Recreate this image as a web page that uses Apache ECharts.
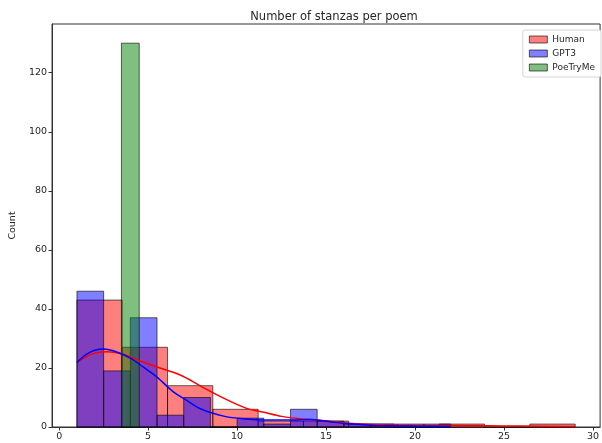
<!DOCTYPE html>
<html>
<head>
<meta charset="utf-8">
<script src="https://cdn.jsdelivr.net/npm/echarts@6/dist/echarts.min.js"></script>
<style>
  html, body { margin: 0; padding: 0; background: #fff; }
  #chart { width: 602px; height: 443px; }
</style>
</head>
<body>
<div id="chart"></div>
<script>
// histogram bins (edges) and counts
const humanEdges = [1, 3.545, 6.091, 8.636, 11.182, 13.727, 16.273, 18.818, 21.364, 23.909, 26.455, 29];
const humanCounts = [43, 27, 14, 6, 2, 2, 1, 0, 1, 0, 1];

const gptEdges = [1, 2.5, 4, 5.5, 7, 8.5, 10, 11.5, 13, 14.5, 16, 17.5, 19, 20.5, 22];
const gptCounts = [46, 19, 37, 4, 10, 0, 3, 1, 6, 2, 1, 1, 1, 1];

const poeEdges = [3.5, 4.5];
const poeCounts = [130];

// kde curves [x, count]
const humanKde = [
  [1, 21.8], [1.5, 23.8], [2, 25], [2.7, 25.5], [3.5, 24.8], [4.2, 23.2],
  [5.45, 20.4], [6.8, 17.6], [8, 13.7], [9.3, 9.6], [10.5, 6.4], [11.5, 5],
  [12.5, 3.6], [13.4, 2.9], [14.6, 2.3], [16.3, 1.3], [18, 0.8], [20, 0.6],
  [22, 0.5], [24, 0.4], [26, 0.35], [29, 0.2],
];
const gptKde = [
  [1, 21.8], [1.5, 24.5], [2, 26], [2.5, 26.4], [3.2, 25.5], [4, 23.3],
  [4.8, 20], [5.5, 16.9], [6.4, 12], [7.1, 9.3], [8, 6], [9.3, 3.6],
  [10.5, 2.7], [11.5, 2.4], [13.3, 2.4], [14.1, 2.5], [15.2, 1.8],
  [16.1, 1.2], [17.8, 0.5], [20, 0.3], [22, 0.2],
];

const xTicks = [0, 5, 10, 15, 20, 25, 30];
const yTicks = [0, 20, 40, 60, 80, 100, 120];

const names = ['Human', 'GPT3', 'PoeTryMe'];
const fills = ['rgba(255,0,0,0.5)', 'rgba(0,0,255,0.5)', 'rgba(0,128,0,0.5)'];
const edgeColor = 'rgba(0,0,0,0.6)';
const textColor = '#262626';
const font = 'DejaVu Sans';

function toBins(edges, counts) {
  return counts.map((c, i) => [edges[i], edges[i + 1], c]);
}

function histSeries(name, edges, counts, fill, z) {
  return {
    name: name,
    type: 'custom',
    z: z,
    itemStyle: { color: fill, borderColor: edgeColor, borderWidth: 1 },
    encode: { x: [0, 1], y: 2 },
    data: toBins(edges, counts),
    renderItem: function (params, api) {
      const p0 = api.coord([api.value(0), api.value(2)]);
      const p1 = api.coord([api.value(1), 0]);
      return {
        type: 'rect',
        shape: { x: p0[0], y: p0[1], width: p1[0] - p0[0], height: p1[1] - p0[1] },
        style: { fill: fill, stroke: edgeColor, lineWidth: 1 },
      };
    },
  };
}

function kdeSeries(name, data, color) {
  return {
    name: name,
    type: 'line',
    z: 10,
    data: data,
    smooth: 0.35,
    showSymbol: false,
    silent: true,
    lineStyle: { color: color, width: 1.5 },
  };
}

const chart = echarts.init(document.getElementById('chart'), null, { renderer: 'canvas' });

const option = {
  animation: false,
  backgroundColor: '#fff',
  textStyle: { fontFamily: font },
  title: {
    text: 'Number of stanzas per poem',
    left: 329,
    top: 6,
    textAlign: 'center',
    textStyle: { fontFamily: font, fontSize: 11.5, fontWeight: 'normal', color: textColor },
  },
  legend: {
    orient: 'vertical',
    right: 1,
    top: 30,
    itemWidth: 18,
    itemHeight: 7,
    itemGap: 5,
    padding: [5, 6, 5, 6],
    backgroundColor: '#fff',
    borderColor: '#d5d5d5',
    borderWidth: 1,
    borderRadius: 2,
    textStyle: { fontFamily: font, fontSize: 9, color: textColor },
    data: names.map((n, i) => ({
      name: n,
      icon: 'rect',
      itemStyle: { color: fills[i], borderColor: edgeColor, borderWidth: 1 },
    })),
  },
  grid: {
    left: 50,
    top: 24,
    width: 553,
    height: 403,
    show: true,
    borderColor: '#333',
    borderWidth: 1,
  },
  xAxis: {
    type: 'value',
    min: -0.4,
    max: 30.4,
    splitLine: { show: false },
    axisLine: { onZero: false, lineStyle: { color: '#333' } },
    axisTick: { length: 3.5, lineStyle: { color: '#333' }, customValues: xTicks },
    axisLabel: { customValues: xTicks, margin: 5, fontSize: 9.5, color: textColor, fontFamily: font },
  },
  yAxis: {
    type: 'value',
    min: 0,
    max: 136.5,
    name: 'Count',
    nameLocation: 'middle',
    nameGap: 33,
    nameRotate: 90,
    nameTextStyle: { fontFamily: font, fontSize: 9.5, color: textColor },
    splitLine: { show: false },
    axisLine: { show: true, onZero: false, lineStyle: { color: '#333' } },
    axisTick: { show: true, length: 3.5, lineStyle: { color: '#333' }, customValues: yTicks },
    axisLabel: { customValues: yTicks, margin: 5, fontSize: 9.5, color: textColor, fontFamily: font },
  },
  series: [
    histSeries('Human', humanEdges, humanCounts, fills[0], 2),
    histSeries('GPT3', gptEdges, gptCounts, fills[1], 3),
    histSeries('PoeTryMe', poeEdges, poeCounts, fills[2], 4),
    kdeSeries('Human kde', humanKde, 'red'),
    kdeSeries('GPT3 kde', gptKde, 'blue'),
  ],
};

chart.setOption(option);
</script>
</body>
</html>
